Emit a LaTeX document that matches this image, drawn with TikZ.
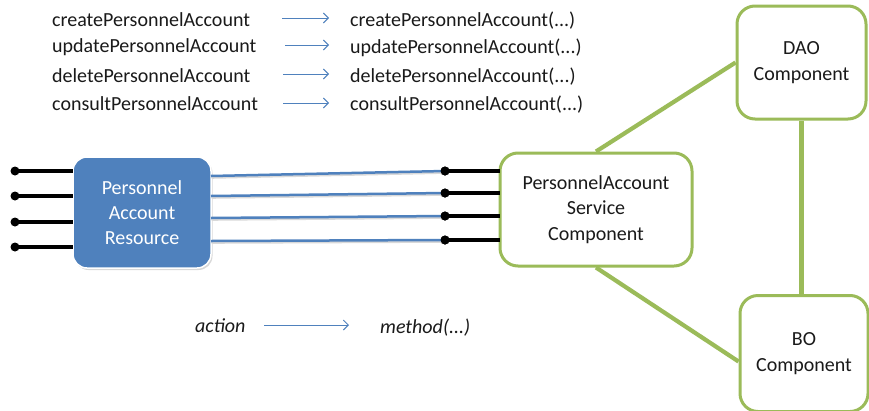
\documentclass[tikz,border=0pt]{standalone}
\usepackage{fontspec}
\setmainfont{Carlito}
\usetikzlibrary{arrows.meta,shadows,backgrounds}
\definecolor{accblue}{HTML}{4F81BD}
\definecolor{accgreen}{HTML}{9BBB59}
\definecolor{txtgray}{HTML}{1A1A1A}
\tikzset{
  txt/.style={inner sep=0pt, text=txtgray, font=\fontsize{20}{24}\selectfont},
  resbox/.style={draw=white, line width=1.5pt, fill=accblue, rounded corners=14pt,
     text=white, align=center, font=\fontsize{20}{25}\selectfont,
     drop shadow={opacity=0.3, shadow xshift=1.5pt, shadow yshift=-2pt}},
  compbox/.style={draw=accgreen, line width=3pt, fill=white, rounded corners=18pt,
     text=txtgray, align=center, font=\fontsize{20}{25.5}\selectfont, inner sep=0pt},
  stub/.style={line width=3.2pt, black},
  dot/.style={circle, fill=black, inner sep=0pt, minimum size=9pt},
  wire/.style={line width=2.5pt, accblue,
     preaction={draw=black!15, line width=3pt, transform canvas={shift={(0.5pt,-1.3pt)}}}},
  glink/.style={line width=4.2pt, accgreen},
  maparrow/.style={line width=0.9pt, accblue, -{Straight Barb[length=5pt,width=10pt]}}
}
\begin{document}
\begin{tikzpicture}[x=1pt,y=-1pt]
\useasboundingbox (0,0) rectangle (869,410);
\clip (0,0) rectangle (869,410);

% mapping texts
\node[txt, anchor=base west] (c1) at (52,26) {createPersonnelAccount};
\node[txt, anchor=base west] (c2) at (52,52) {updatePersonnelAccount};
\node[txt, anchor=base west] (c3) at (52,82) {deletePersonnelAccount};
\node[txt, anchor=base west] (c4) at (52,110) {consultPersonnelAccount};
\node[txt, anchor=base west] (m1) at (350,26) {createPersonnelAccount(...)};
\node[txt, anchor=base west] (m2) at (350,53) {updatePersonnelAccount(...)};
\node[txt, anchor=base west] (m3) at (350,82) {deletePersonnelAccount(...)};
\node[txt, anchor=base west] (m4) at (350,110) {consultPersonnelAccount(...)};
\coordinate (a1s) at (282,18); \coordinate (a1e) at (329,18);
\coordinate (a2s) at (285,45); \coordinate (a2e) at (329,45);
\coordinate (a3s) at (283,74); \coordinate (a3e) at (329,74);
\coordinate (a4s) at (283,103); \coordinate (a4e) at (329,103);
\draw[maparrow] (a1s) -- (a1e);
\draw[maparrow] (a2s) -- (a2e);
\draw[maparrow] (a3s) -- (a3e);
\draw[maparrow] (a4s) -- (a4e);

% legend
\node[txt, anchor=base west, font=\fontsize{20}{24}\selectfont\itshape] (act) at (195,332) {action};
\node[txt, anchor=base west, font=\fontsize{20}{24}\selectfont\itshape] (meth) at (380,333) {method(...)};
\coordinate (las) at (264,325); \coordinate (lae) at (349,325);
\draw[maparrow] (las) -- (lae);

% boxes
\node[resbox, minimum width=138pt, minimum height=111pt] (res) at (142,212.5) {Personnel\\Account\\Resource};
\node[compbox, minimum width=192pt, minimum height=113pt] (svc) at (596,209.5) {PersonnelAccount\\Service\\Component};
\node[compbox, minimum width=129pt, minimum height=113pt] (dao) at (801.5,62.5) {DAO\\Component};
\node[compbox, minimum width=128pt, minimum height=116pt] (bo) at (804,353.5) {BO\\Component};

% left stubs
\foreach \i/\y in {1/171,2/196,3/222,4/247}{
  \node[dot] (ld\i) at (15,\y) {};
  \coordinate (lr\i) at (73,\y);
  \draw[stub] (ld\i.center) -- (lr\i);
}
% right stubs and wires
\foreach \i/\yl/\yr in {1/176/171,2/196/193,3/218/216,4/241/240}{
  \coordinate (wl\i) at (211,\yl);
  \node[dot] (rd\i) at (445,\yr) {};
  \coordinate (rr\i) at (500,\yr);
  \draw[wire] (wl\i) -- (rd\i.center);
  \draw[stub] (rd\i.center) -- (rr\i);
  \node[dot] at (rd\i) {};
}

% green links behind boxes
\begin{scope}[on background layer]
\fill[white] (0,0) rectangle (869,410);
\draw[glink] (svc.north) -- (dao.west);
\draw[glink] (svc.south) -- ([yshift=-8pt]bo.west);
\draw[glink] (dao.south) -- (dao.south |- bo.north);
\end{scope}
\end{tikzpicture}
\end{document}
